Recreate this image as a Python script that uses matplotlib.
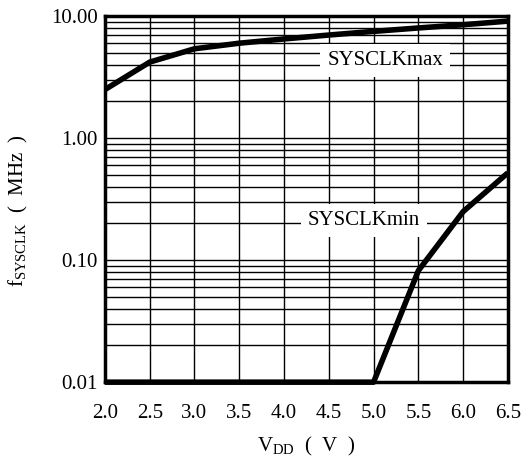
import matplotlib
matplotlib.use('Agg')
import matplotlib.pyplot as plt
from matplotlib.ticker import LogLocator, NullFormatter, FixedLocator

plt.rcParams['font.family'] = ['Liberation Serif', 'DejaVu Serif']
plt.rcParams['mathtext.fontset'] = 'custom'
plt.rcParams['mathtext.rm'] = 'Liberation Serif'
plt.rcParams['mathtext.it'] = 'Liberation Serif'

# datos
vdd = [2.0, 2.5, 3.0, 3.5, 4.0, 4.5, 5.0, 5.5, 6.0, 6.5]
sysclk_max = [2.5, 4.2, 5.4, 6.0, 6.5, 7.0, 7.5, 8.0, 8.5, 9.1]
sysclk_min = [0.01, 0.01, 0.01, 0.01, 0.01, 0.01, 0.01, 0.082, 0.25, 0.52]
yticks = [0.01, 0.1, 1, 10]
ylabels = ['0.01', '0.10', '1.00', '10.00']
xticks = [2.0, 2.5, 3.0, 3.5, 4.0, 4.5, 5.0, 5.5, 6.0, 6.5]

fig = plt.figure(figsize=(5.22, 4.61), dpi=100)
ax = fig.add_axes([0.201, 0.171, 0.772, 0.794])

ax.set_yscale('log')
ax.set_xlim(2.0, 6.5)
ax.set_ylim(0.01, 10)

ax.yaxis.set_major_locator(FixedLocator(yticks))
ax.set_yticklabels(ylabels)
ax.yaxis.set_minor_locator(LogLocator(base=10, subs=range(2, 10)))
ax.yaxis.set_minor_formatter(NullFormatter())
ax.set_xticks(xticks)
ax.set_xticklabels(['%.1f' % v for v in xticks])

ax.grid(True, which='both', axis='y', color='black', linewidth=1)
ax.grid(True, which='major', axis='x', color='black', linewidth=1)
ax.tick_params(which='both', length=0, labelsize=15)
ax.tick_params(axis='x', pad=16)
ax.tick_params(axis='y', pad=5)

for s in ax.spines.values():
    s.set_linewidth(2.5)

ax.plot(vdd, sysclk_max, color='black', linewidth=4, solid_capstyle='butt', zorder=5)
ax.plot(vdd, sysclk_min, color='black', linewidth=4, solid_capstyle='butt', zorder=5, clip_on=False)

ax.text(5.13, 4.3, 'SYSCLKmax', fontsize=15, ha='center', va='center',
        bbox=dict(facecolor='white', edgecolor='none', pad=5), zorder=4)
ax.text(4.89, 0.21, 'SYSCLKmin', fontsize=15, ha='center', va='center',
        bbox=dict(facecolor='white', edgecolor='none', pad=5), zorder=4)

ax.set_xlabel(r'$\mathrm{V_{DD}}$  (  V  )', fontsize=15, labelpad=8)
ax.set_ylabel(r'$\mathrm{f_{SYSCLK}}$  (  MHz  )', fontsize=15)
ax.yaxis.set_label_coords(-0.185, 0.47)

plt.savefig('out.png', dpi=100)
